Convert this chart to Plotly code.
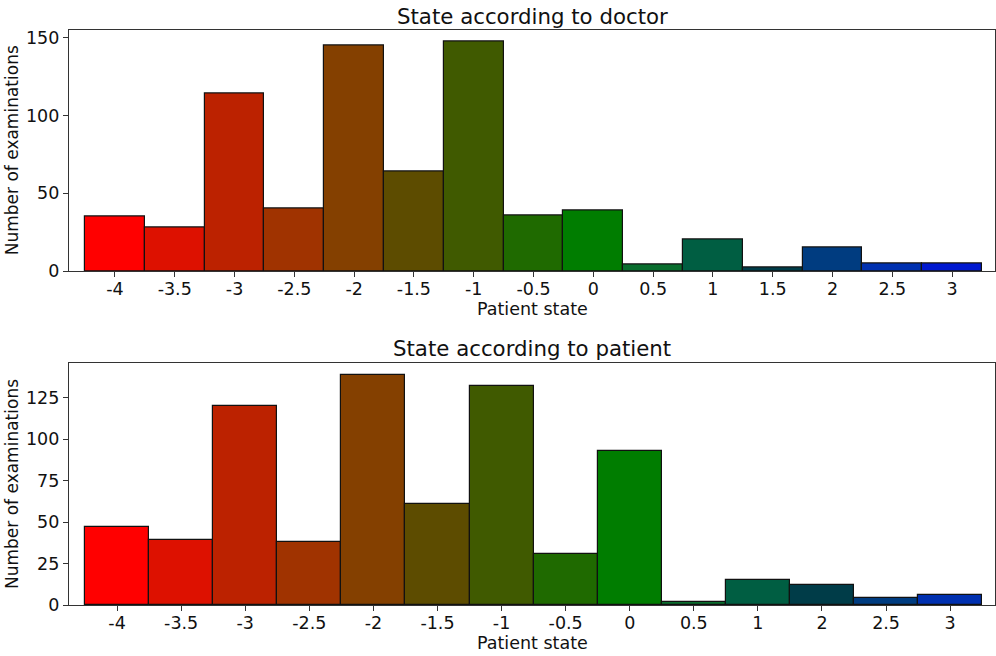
import plotly.graph_objects as go

# Patient state categories and counts for each panel
doctor_states = ["-4", "-3.5", "-3", "-2.5", "-2", "-1.5", "-1", "-0.5",
                 "0", "0.5", "1", "1.5", "2", "2.5", "3"]
doctor_counts = [35, 28, 114, 40, 145, 64, 148, 36, 39, 4, 20, 2, 15, 5, 5]

patient_states = ["-4", "-3.5", "-3", "-2.5", "-2", "-1.5", "-1", "-0.5",
                  "0", "0.5", "1", "2", "2.5", "3"]
patient_counts = [47, 39, 120, 38, 139, 61, 132, 31, 93, 2, 15, 12, 4, 6]

# red -> green -> blue palette, one colour per bar position
palette = ["#ff0000", "#dd1100", "#bc2200", "#a03300", "#844000", "#5d4c00",
           "#405a00", "#1f6a00", "#007d00", "#0a6e2e", "#005e42", "#003c48",
           "#003c80", "#0030b0", "#0018d0"]

FONT = "DejaVu Sans"
W, H = 996, 656

fig = go.Figure()

fig.add_trace(go.Bar(
    x=doctor_states, y=doctor_counts, width=1,
    marker=dict(color=palette[:len(doctor_states)],
                line=dict(color="#111111", width=1.2)),
    xaxis="x", yaxis="y", showlegend=False,
))
fig.add_trace(go.Bar(
    x=patient_states, y=patient_counts, width=1,
    marker=dict(color=palette[:len(patient_states)],
                line=dict(color="#111111", width=1.2)),
    xaxis="x2", yaxis="y2", showlegend=False,
))

x_dom = [69 / W, 995 / W]
top_dom = [1 - 271 / H, 1 - 29.5 / H]
bot_dom = [1 - 605 / H, 1 - 363 / H]

axis_common = dict(
    showline=True, linecolor="#333333", linewidth=1.2, mirror=True,
    ticks="outside", ticklen=5, tickwidth=1, tickcolor="#333333",
    showgrid=False, zeroline=False, automargin=False,
    tickfont=dict(family=FONT, size=17.5, color="#111111"),
)
x_common = dict(axis_common, ticklabelstandoff=-3)

fig.update_layout(
    width=W, height=H,
    margin=dict(l=0, r=0, t=0, b=0),
    paper_bgcolor="white", plot_bgcolor="white",
    bargap=0,
    xaxis=dict(domain=x_dom, anchor="y", type="category",
               categoryorder="array", categoryarray=doctor_states,
               range=[-0.768, 14.717], **x_common),
    yaxis=dict(domain=top_dom, anchor="x", range=[0, max(doctor_counts) * 1.05],
               tickvals=[0, 50, 100, 150], **axis_common),
    xaxis2=dict(domain=x_dom, anchor="y2", type="category",
                categoryorder="array", categoryarray=patient_states,
                range=[-0.75, 13.70], **x_common),
    yaxis2=dict(domain=bot_dom, anchor="x2", range=[0, max(patient_counts) * 1.05],
                tickvals=[0, 25, 50, 75, 100, 125], **axis_common),
)

cx = (x_dom[0] + x_dom[1]) / 2
labels = [
    ("State according to doctor", cx, 1 - 16 / H, 21.3, 0),
    ("State according to patient", cx, 1 - 348 / H, 21.3, 0),
    ("Patient state", cx, 1 - 309 / H, 17.5, 0),
    ("Patient state", cx, 1 - 643 / H, 17.5, 0),
    ("Number of examinations", 12 / W, (top_dom[0] + top_dom[1]) / 2, 17, -90),
    ("Number of examinations", 12 / W, (bot_dom[0] + bot_dom[1]) / 2, 17, -90),
]
for text, x, y, size, angle in labels:
    fig.add_annotation(text=text, x=x, y=y, xref="paper", yref="paper",
                       showarrow=False, textangle=angle,
                       xanchor="center", yanchor="middle",
                       font=dict(family=FONT, size=size, color="#111111"))

fig.write_html("out.html")
